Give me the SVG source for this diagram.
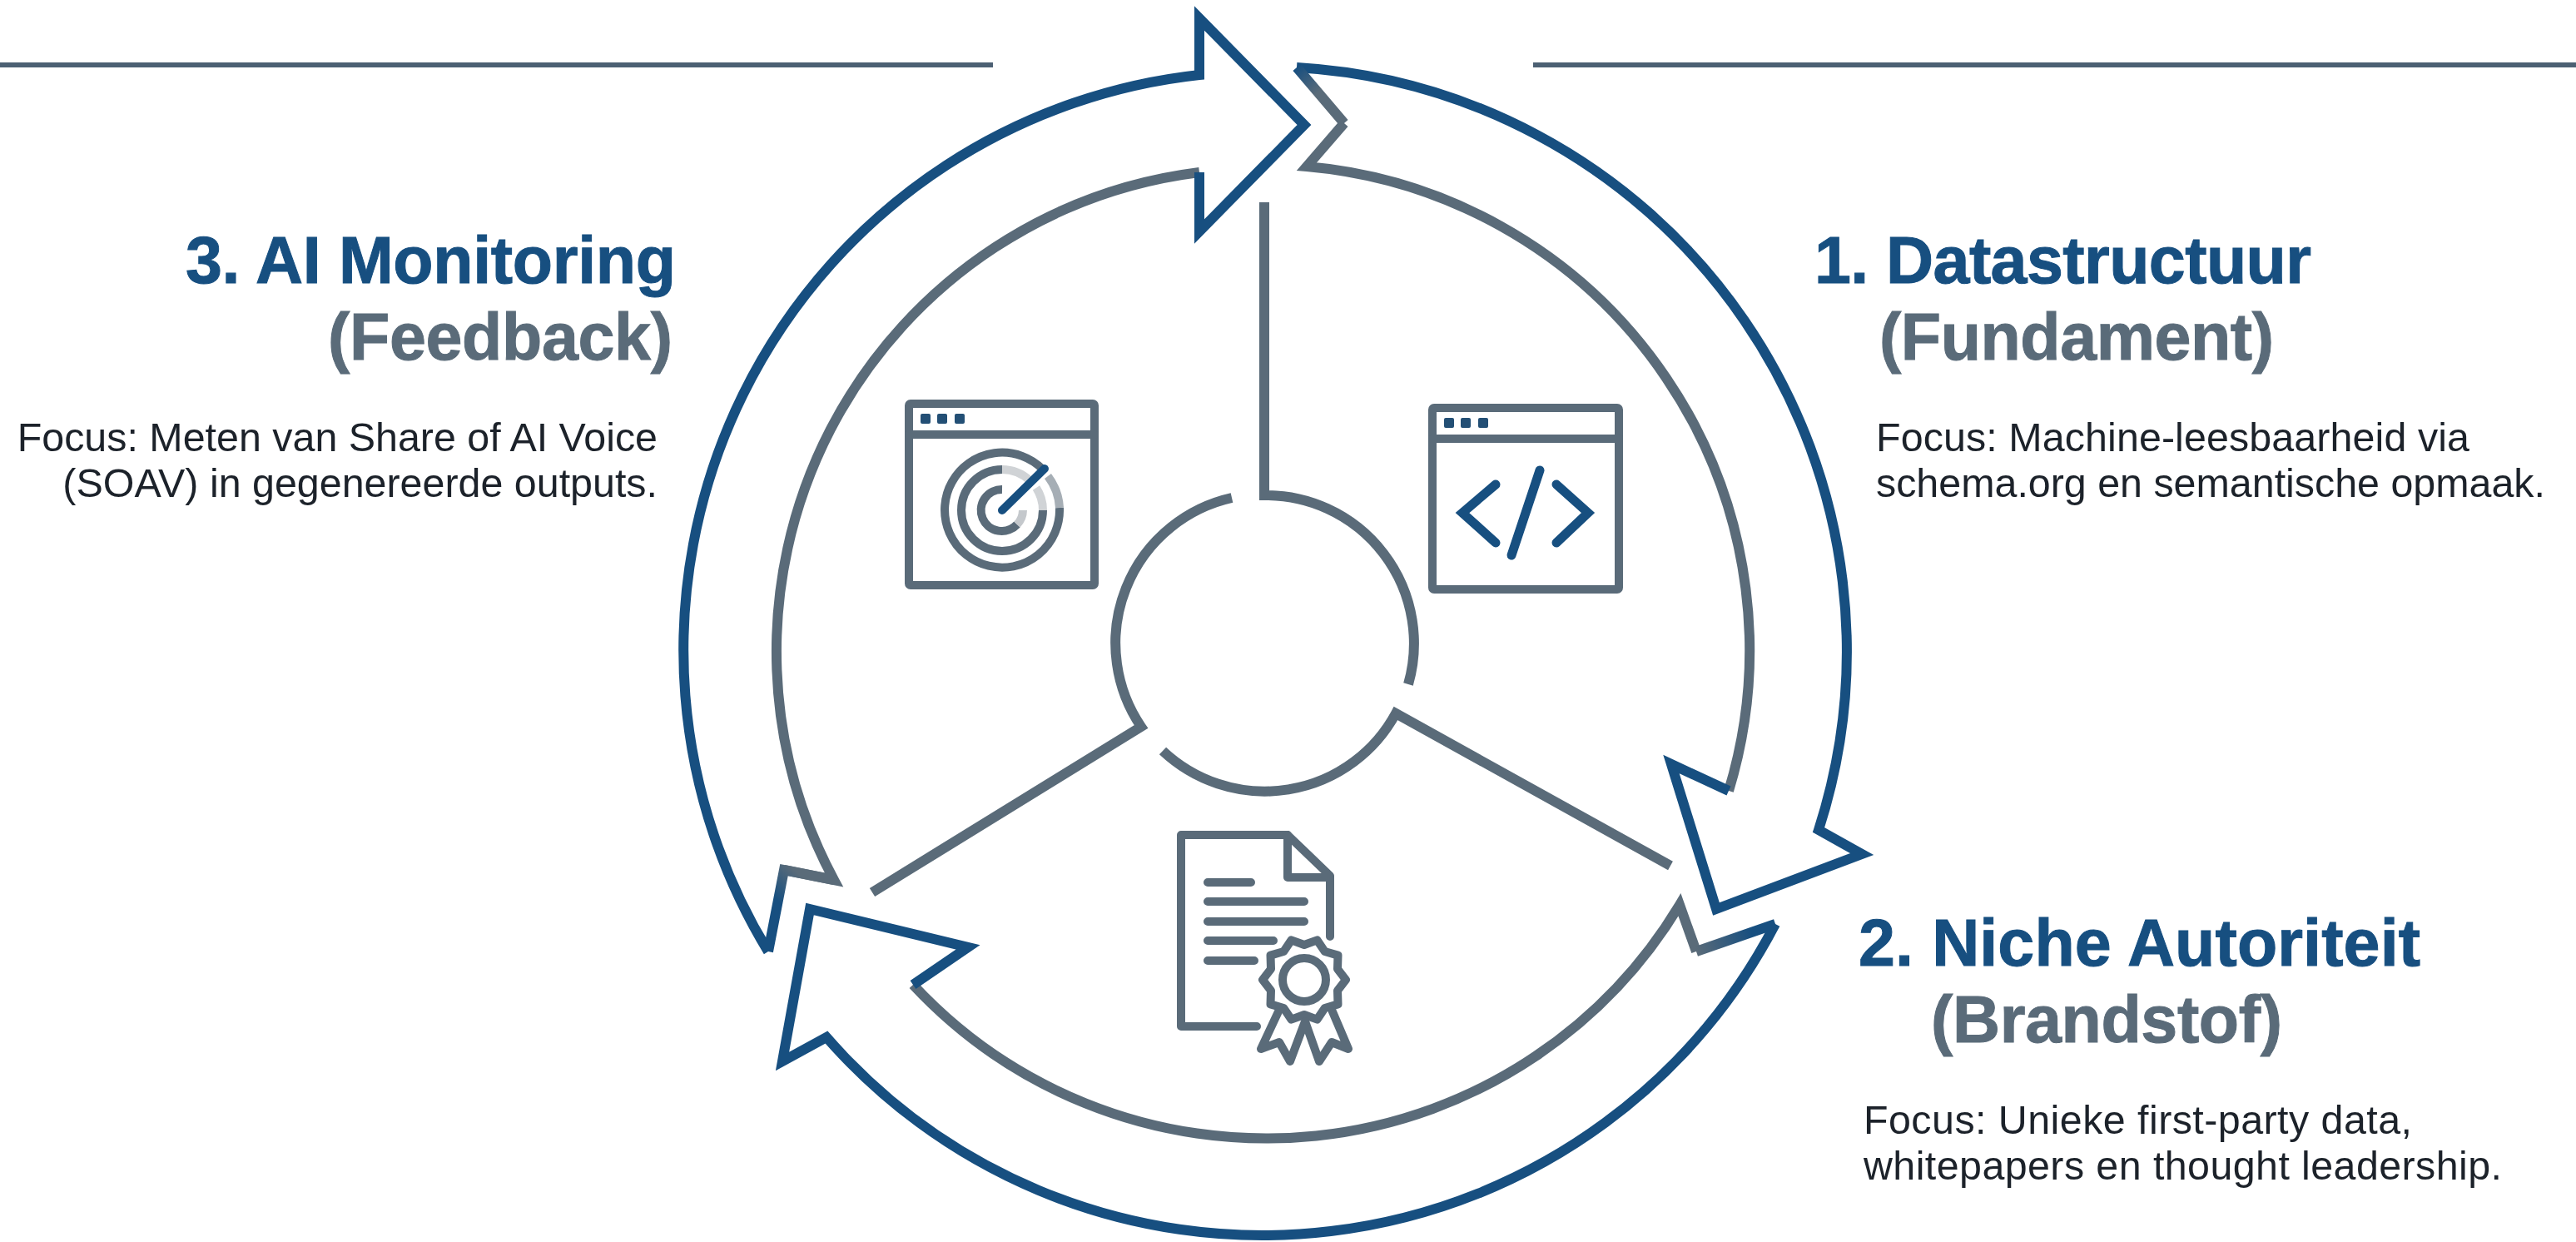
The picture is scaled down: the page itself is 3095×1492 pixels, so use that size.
<svg xmlns="http://www.w3.org/2000/svg" width="3095" height="1492" viewBox="0 0 3095 1492">
<style>
.g{fill:none;stroke:#5a6b79;stroke-width:12;stroke-linejoin:miter;stroke-miterlimit:10}
.n{fill:none;stroke:#174f80;stroke-width:12;stroke-linejoin:miter;stroke-miterlimit:10}
.ic{fill:none;stroke:#5a6b79;stroke-width:10;stroke-linejoin:round;stroke-linecap:round}
.co{fill:none;stroke:#174f80;stroke-width:11;stroke-linecap:round;stroke-linejoin:miter}
.d{fill:#234f75}
.t{font-family:"Liberation Sans",Arial,sans-serif;font-weight:700;font-size:79px;fill:#174f80;stroke:#174f80;stroke-width:1}
.s{font-family:"Liberation Sans",Arial,sans-serif;font-weight:700;font-size:79px;fill:#5a6b79;stroke:#5a6b79;stroke-width:1}
.b{font-family:"Liberation Sans",Arial,sans-serif;font-size:48.4px;fill:#1c222a}
.e{text-anchor:end}
</style>
<defs>
<linearGradient id="f1" gradientUnits="userSpaceOnUse" x1="1558" y1="81" x2="1615" y2="148"><stop offset="0" stop-color="#174f80"/><stop offset=".45" stop-color="#5a6b79"/></linearGradient>
<linearGradient id="f2" gradientUnits="userSpaceOnUse" x1="2133" y1="1110" x2="2038" y2="1143"><stop offset=".3" stop-color="#174f80"/><stop offset="1" stop-color="#5a6b79"/></linearGradient>
<linearGradient id="f3" gradientUnits="userSpaceOnUse" x1="923" y1="1143" x2="1002" y2="1057"><stop offset=".45" stop-color="#174f80"/><stop offset=".8" stop-color="#5a6b79"/></linearGradient>
</defs>
<rect width="3095" height="1492" fill="#fff"/>
<g id="rules" fill="none" stroke="#4c6073" stroke-width="6">
<path d="M0 78H1193"/><path d="M1842 78H3095"/>
</g>
<g id="connectors">
<path class="g" d="M1519 243V595A178 178 0 0 1 1692 822"/>
<path class="g" d="M2007 1040L1677 857A179 179 0 0 1 1397 902"/>
<path class="g" d="M1048 1072L1371 873A179 179 0 0 1 1480 598"/>
</g>
<g id="arrow-1">
<path class="g" d="M2077 950A583 583 0 0 0 1570 200L1615 148"/>
<path class="n" d="M1558 81A702 702 0 0 1 2185 997L2237 1026L2062 1092L2008 918L2077 950"/>
<path fill="none" stroke="url(#f1)" stroke-width="12" d="M1558 81L1615 148"/>
</g>
<g id="arrow-2">
<path class="g" d="M1097 1183A580 580 0 0 0 2018 1087L2038 1143"/>
<path class="n" d="M2133 1110A695 695 0 0 1 993 1246L940 1275L973 1092L1163 1138L1097 1183"/>
<path fill="none" stroke="url(#f2)" stroke-width="12" d="M2133 1110L2038 1143"/>
</g>
<g id="arrow-3">
<path class="g" d="M1441 207A580 580 0 0 0 1002 1057L942 1045"/>
<path class="n" d="M923 1143A695 695 0 0 1 1441 90V22L1567 150L1441 278V207"/>
<path fill="none" stroke="url(#f3)" stroke-width="12" d="M923 1143L942 1045L1002 1057"/>
</g>
<g id="icon-code">
<rect class="ic" x="1721" y="490" width="224" height="218" rx="2"/>
<path class="ic" d="M1721 527H1945"/>
<rect class="d" x="1735" y="502" width="12" height="12" rx="2"/><rect class="d" x="1755" y="502" width="12" height="12" rx="2"/><rect class="d" x="1776" y="502" width="12" height="12" rx="2"/>
<path class="co" d="M1797 582L1757 616L1797 652"/>
<path class="co" d="M1850 565L1816 667"/>
<path class="co" d="M1870 582L1908 616L1870 652"/>
</g>
<g id="icon-radar">
<rect class="ic" x="1092" y="485" width="223" height="218" rx="2"/>
<path class="ic" d="M1092 522H1315"/>
<rect class="d" x="1106" y="497" width="12" height="12" rx="2"/><rect class="d" x="1126" y="497" width="12" height="12" rx="2"/><rect class="d" x="1147" y="497" width="12" height="12" rx="2"/>
<g fill="none" stroke-width="10">
<path stroke="#5a6b79" d="M1273 610A69 69 0 1 1 1253 564"/>
<path stroke="#a6aeb5" d="M1259 572A69 69 0 0 1 1273 610"/>
<path stroke="#5a6b79" d="M1253 613A49 49 0 1 1 1204 564"/>
<path stroke="#d0d3d6" d="M1204 564A49 49 0 0 1 1237 577"/>
<path stroke="#d0d3d6" d="M1245 586A49 49 0 0 1 1253 613"/>
<path stroke="#5a6b79" d="M1222 630A25 25 0 1 1 1204 588"/>
<path stroke="#c4c8cc" d="M1229 613A25 25 0 0 1 1222 630"/>
</g>
<path d="M1204 613L1255 563" fill="none" stroke="#174f80" stroke-width="10" stroke-linecap="round"/>
</g>
<g id="icon-doc">
<path class="ic" d="M1510 1233H1419V1003H1547L1598 1052V1125"/>
<path class="ic" d="M1547 1003V1054H1598"/>
<path class="ic" d="M1451 1060H1503M1451 1083H1567M1451 1107H1567M1451 1130H1530M1451 1154H1507"/>
<g transform="translate(1567 1177)">
<polygon class="ic" points="50,0 40,13 40.5,29.4 24.7,34 15.5,47.6 0,42 -15.5,47.6 -24.7,34 -40.5,29.4 -40,13 -50,0 -40,-13 -40.5,-29.4 -24.7,-34 -15.5,-47.6 0,-42 15.5,-47.6 24.7,-34 40.5,-29.4 40,-13"/>
<circle class="ic" r="26"/>
</g>
<path class="ic" d="M1537 1213L1515 1260L1537 1252L1550 1275L1568 1227L1585 1275L1600 1252L1620 1260L1600 1213"/>
</g>
<g id="label-1">
<text class="t" x="2180" y="340" textLength="597">1. Datastructuur</text>
<text class="s" x="2258" y="432" textLength="474">(Fundament)</text>
<text class="b" x="2254" y="542" textLength="713">Focus: Machine-leesbaarheid via</text>
<text class="b" x="2254" y="597" textLength="804">schema.org en semantische opmaak.</text>
</g>
<g id="label-2">
<text class="t" x="2233" y="1160" textLength="675">2. Niche Autoriteit</text>
<text class="s" x="2320" y="1252" textLength="422">(Brandstof)</text>
<text class="b" x="2239" y="1362" textLength="659">Focus: Unieke first-party data,</text>
<text class="b" x="2239" y="1417" textLength="767">whitepapers en thought leadership.</text>
</g>
<g id="label-3">
<text class="t" x="223" y="340" textLength="589">3. AI Monitoring</text>
<text class="s" x="394" y="432" textLength="414">(Feedback)</text>
<text class="b e" x="790" y="542">Focus: Meten van Share of AI Voice</text>
<text class="b e" x="790" y="597">(SOAV) in gegenereerde outputs.</text>
</g>
</svg>
